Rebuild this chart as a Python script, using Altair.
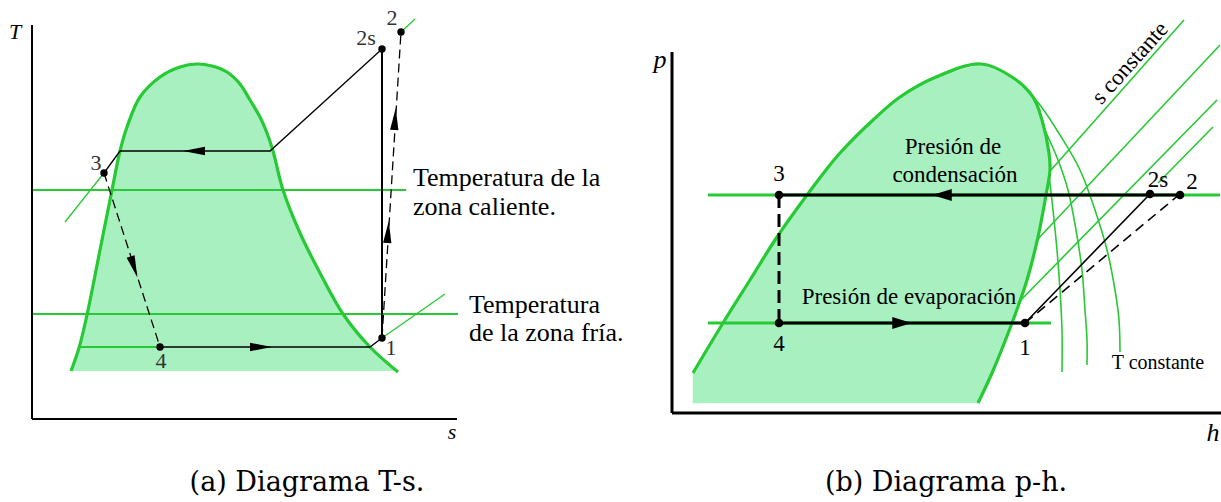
import altair as alt
import pandas as pd

W, H = 1221, 502

GREEN = "#27c934"
FILL = "#a8f0c0"
BLACK = "#000000"
SERIF = "Liberation Serif"

# ---------------- (a) T-s diagram ----------------
ts_dome_x = [71, 79, 87, 100, 112, 120, 127, 140, 160, 180, 197, 212, 227, 240,
             250, 260, 267, 273, 283, 300, 320, 343, 370, 398]
ts_dome_y = [371, 348, 315, 250, 190, 151, 127, 97, 77, 67, 64, 66, 72, 84,
             100, 117, 133, 151, 190, 233, 273, 314, 347, 372]
ts_dome_base = 371

ts_state_lbl = ["1", "2", "2s", "3", "4"]
ts_state_x = [382, 401, 382, 104, 160]
ts_state_y = [338, 32, 49, 173, 347]
ts_lbl_x = [391, 392, 366, 96, 161]
ts_lbl_y = [348, 18, 38, 163, 361]

# condenser: 2s -> saturated vapour -> saturated liquid -> 3
ts_cond_x = [382, 270, 120, 104]
ts_cond_y = [49, 151, 151, 173]
# evaporator: 4 -> saturated vapour -> 1
ts_evap_x = [160, 370, 382]
ts_evap_y = [347, 347, 338]
# isentropic compression 1 -> 2s
ts_isen_x = [382, 382]
ts_isen_y = [338, 49]
# real compression 1 -> 2 and throttling 3 -> 4
ts_real_x = [382, 401]
ts_real_y = [338, 32]
ts_thr_x = [104, 160]
ts_thr_y = [173, 347]

ts_hot_y, ts_hot_x = 190, [32, 406]
ts_cold_y, ts_cold_x = 314, [32, 458]
ts_wet_x, ts_wet_y = [79, 160], [347, 347]
ts_iso3_x, ts_iso3_y = [65, 104], [222, 173]
ts_iso1_x, ts_iso1_y = [382, 445], [338, 294]
ts_iso2_x, ts_iso2_y = [401, 415], [32, 19]

ts_axis_x = [[32, 32], [32, 457]]
ts_axis_y = [[25, 419], [419, 419]]

# arrowheads: centre x, centre y, direction (deg clockwise from up)
ts_arrow_x = [194, 261, 134, 395, 388]
ts_arrow_y = [151, 347, 267, 119, 232]
ts_arrow_a = [270, 90, 162, 4, 4]

# ---------------- (b) p-h diagram ----------------
ph_dome_y = [64, 77, 97, 120, 153, 170, 195, 237, 280, 323, 373, 403]
ph_dome_xl = [981, 936, 900, 873, 840, 826, 807, 777, 750, 723, 693, 693]
ph_dome_xr = [981, 1012, 1033, 1042, 1049, 1050, 1046, 1038, 1027, 1012, 992, 978]

ph_state_lbl = ["1", "2", "2s", "3", "4"]
ph_state_x = [1025, 1180, 1150, 779, 779]
ph_state_y = [323, 195, 194, 195, 323]
ph_lbl_x = [1025, 1192, 1158, 779, 779]
ph_lbl_y = [348, 182, 180, 174, 344]

ph_cond_x, ph_cond_y = [1180, 779], [195, 195]
ph_evap_x, ph_evap_y = [779, 1025], [323, 323]
ph_valve_x, ph_valve_y = [779, 779], [195, 323]
ph_isen_x, ph_isen_y = [1025, 1150], [323, 194]
ph_real_x, ph_real_y = [1025, 1180], [323, 194]

ph_high_x, ph_high_y = [708, 1220], [195, 195]
ph_low_x, ph_low_y = [708, 1051], [323, 323]

# constant-entropy lines
ph_s_x = [[1051, 1184], [1037, 1220], [1018, 1217], [1158, 1213]]
ph_s_y = [[170, 20], [240, 45], [303, 100], [183, 127]]
# constant-temperature curves
ph_t_x = [[1049, 1053, 1057, 1060, 1062, 1062],
          [1044, 1058, 1068, 1076, 1082, 1085, 1087, 1087],
          [1022, 1040, 1060, 1080, 1095, 1107, 1115, 1119, 1120]]
ph_t_y = [[175, 210, 250, 290, 330, 372],
          [128, 160, 190, 230, 270, 310, 340, 365],
          [85, 105, 135, 170, 210, 250, 290, 320, 352]]

ph_axis_x = [[672, 672], [672, 1221]]
ph_axis_y = [[52, 413], [413, 413]]

ph_arrow_x = [942, 902]
ph_arrow_y = [195, 323]
ph_arrow_a = [270, 90]

captions = ["(a) Diagrama T-s.", "(b) Diagrama p-h."]
caption_x = [307, 946]
caption_y = [483, 483]

# ---------------- helpers ----------------
X = alt.X("x:Q", scale=alt.Scale(domain=[0, W], nice=False, zero=False), axis=None)
Y = alt.Y("y:Q", scale=alt.Scale(domain=[0, H], nice=False, zero=False, reverse=True), axis=None)


def paths(xs_list, ys_list):
    rows = []
    for k, (xs, ys) in enumerate(zip(xs_list, ys_list)):
        for i, (x, y) in enumerate(zip(xs, ys)):
            rows.append({"seg": k, "i": i, "x": x, "y": y})
    return pd.DataFrame(rows)


def lines(df, color, width, dash=None, interp="linear"):
    kw = dict(color=color, strokeWidth=width, interpolate=interp, strokeCap="butt")
    if dash:
        kw["strokeDash"] = dash
    return alt.Chart(df).mark_line(**kw).encode(
        x=X, y=Y, detail="seg:N", order="i:Q")


def texts(labels, xs, ys, size, color=BLACK, font=SERIF, style="normal",
          align="center", angle=0):
    df = pd.DataFrame({"t": labels, "x": xs, "y": ys})
    kw = dict(font=font, fontSize=size, color=color, fontStyle=style,
              align=align, baseline="middle")
    if angle:
        kw["angle"] = angle
    return alt.Chart(df).mark_text(**kw).encode(x=X, y=Y, text="t:N")


ARROW = "M0,-1L-0.38,1L0.38,1Z"
ARROW_WIDE = "M0,-1L-0.62,1L0.62,1Z"


def arrows(xs, ys, angs, shape, size):
    df = pd.DataFrame({"x": xs, "y": ys, "a": angs})
    return alt.Chart(df).mark_point(shape=shape, filled=True, color=BLACK,
                                    opacity=1, size=size, strokeWidth=0).encode(
        x=X, y=Y, angle=alt.Angle("a:Q", scale=None))


def dots(xs, ys, size):
    df = pd.DataFrame({"x": xs, "y": ys})
    return alt.Chart(df).mark_circle(color=BLACK, opacity=1, size=size).encode(x=X, y=Y)


layers = []

# ---- (a) T-s ----
ts_df = pd.DataFrame({"x": ts_dome_x, "y": ts_dome_y, "b": [ts_dome_base] * len(ts_dome_x)})
layers.append(alt.Chart(ts_df).mark_area(color=FILL, opacity=1, interpolate="catmull-rom")
              .encode(x=X, y=Y, y2="b:Q"))
layers.append(lines(paths([ts_hot_x, ts_cold_x], [[ts_hot_y] * 2, [ts_cold_y] * 2]), GREEN, 2))
layers.append(lines(paths([ts_wet_x], [ts_wet_y]), GREEN, 2.2))
layers.append(lines(paths([ts_iso3_x, ts_iso1_x, ts_iso2_x],
                          [ts_iso3_y, ts_iso1_y, ts_iso2_y]), GREEN, 1.3))
layers.append(lines(paths([ts_dome_x], [ts_dome_y]), GREEN, 3.2, interp="catmull-rom"))
layers.append(lines(paths(ts_axis_x, ts_axis_y), BLACK, 2))
layers.append(lines(paths([ts_cond_x, ts_evap_x], [ts_cond_y, ts_evap_y]), BLACK, 1.3))
layers.append(lines(paths([ts_isen_x], [ts_isen_y]), BLACK, 2))
layers.append(lines(paths([ts_real_x, ts_thr_x], [ts_real_y, ts_thr_y]), BLACK, 1.3, dash=[9, 5]))
layers.append(arrows(ts_arrow_x, ts_arrow_y, ts_arrow_a, ARROW, 484))
layers.append(dots(ts_state_x, ts_state_y, 55))
layers.append(texts(ts_state_lbl, ts_lbl_x, ts_lbl_y, 22, color="#333333"))
layers.append(texts(["T"], [15], [32], 22, style="italic"))
layers.append(texts(["s"], [452], [432], 22, style="italic"))
layers.append(texts(["Temperatura de la", "zona caliente."], [413, 413], [178, 207], 26, align="left"))
layers.append(texts(["Temperatura", "de la zona fría."], [469, 469], [305, 333], 26, align="left"))

# ---- (b) p-h ----
# two-phase region as a closed polygon drawn in plot coordinates
outline_n = ph_dome_y.index(373)
ph_ring = ([[ph_dome_xl[-1], ph_dome_y[-1]]]
           + [[x, y] for x, y in zip(ph_dome_xl[:outline_n + 1][::-1], ph_dome_y[:outline_n + 1][::-1])]
           + [[x, y] for x, y in zip(ph_dome_xr[1:], ph_dome_y[1:])])
ph_ring.append(ph_ring[0])
ph_region = {"type": "Feature", "properties": {},
             "geometry": {"type": "Polygon", "coordinates": [ph_ring]}}
layers.append(alt.Chart(alt.Data(values=[ph_region])).mark_geoshape(
    fill=FILL, stroke=FILL, strokeWidth=0.5, opacity=1).project(
    type="identity", scale=1, translate=[0, 0]))

ph_out_x = ph_dome_xl[:outline_n + 1][::-1] + ph_dome_xr[1:]
ph_out_y = ph_dome_y[:outline_n + 1][::-1] + ph_dome_y[1:]
layers.append(lines(paths(ph_s_x, ph_s_y), GREEN, 1.6))
layers.append(lines(paths(ph_t_x, ph_t_y), GREEN, 1.6, interp="catmull-rom"))
layers.append(lines(paths([ph_high_x, ph_low_x], [ph_high_y, ph_low_y]), GREEN, 3))
layers.append(lines(paths([ph_out_x], [ph_out_y]), GREEN, 3.2, interp="catmull-rom"))
layers.append(lines(paths(ph_axis_x, ph_axis_y), BLACK, 3))
layers.append(lines(paths([ph_cond_x, ph_evap_x], [ph_cond_y, ph_evap_y]), BLACK, 3))
layers.append(lines(paths([ph_valve_x], [ph_valve_y]), BLACK, 3, dash=[13, 6]))
layers.append(lines(paths([ph_isen_x], [ph_isen_y]), BLACK, 1.6))
layers.append(lines(paths([ph_real_x], [ph_real_y]), BLACK, 1.6, dash=[10, 6]))
layers.append(arrows(ph_arrow_x, ph_arrow_y, ph_arrow_a, ARROW_WIDE, 380))
layers.append(dots(ph_state_x, ph_state_y, 75))
layers.append(texts(ph_state_lbl, ph_lbl_x, ph_lbl_y, 23))
layers.append(texts(["p"], [660], [60], 26, style="italic"))
layers.append(texts(["h"], [1213], [433], 26, style="italic"))
layers.append(texts(["Presión de", "condensación"], [953, 955], [147, 175], 23))
layers.append(texts(["Presión de evaporación"], [909], [297], 23))
layers.append(texts(["T  constante"], [1158], [363], 20))
layers.append(texts(["s constante"], [1130], [63], 23, angle=312))

# ---- captions ----
layers.append(texts(captions, caption_x, caption_y, 27, font="DejaVu Serif"))

chart = alt.layer(*layers).properties(
    width=W, height=H, padding=0,
    autosize=alt.AutoSizeParams(type="none"),
    background="white",
).configure_view(strokeWidth=0)

chart.save("out.html", embed_options={"renderer": "svg", "actions": False})
